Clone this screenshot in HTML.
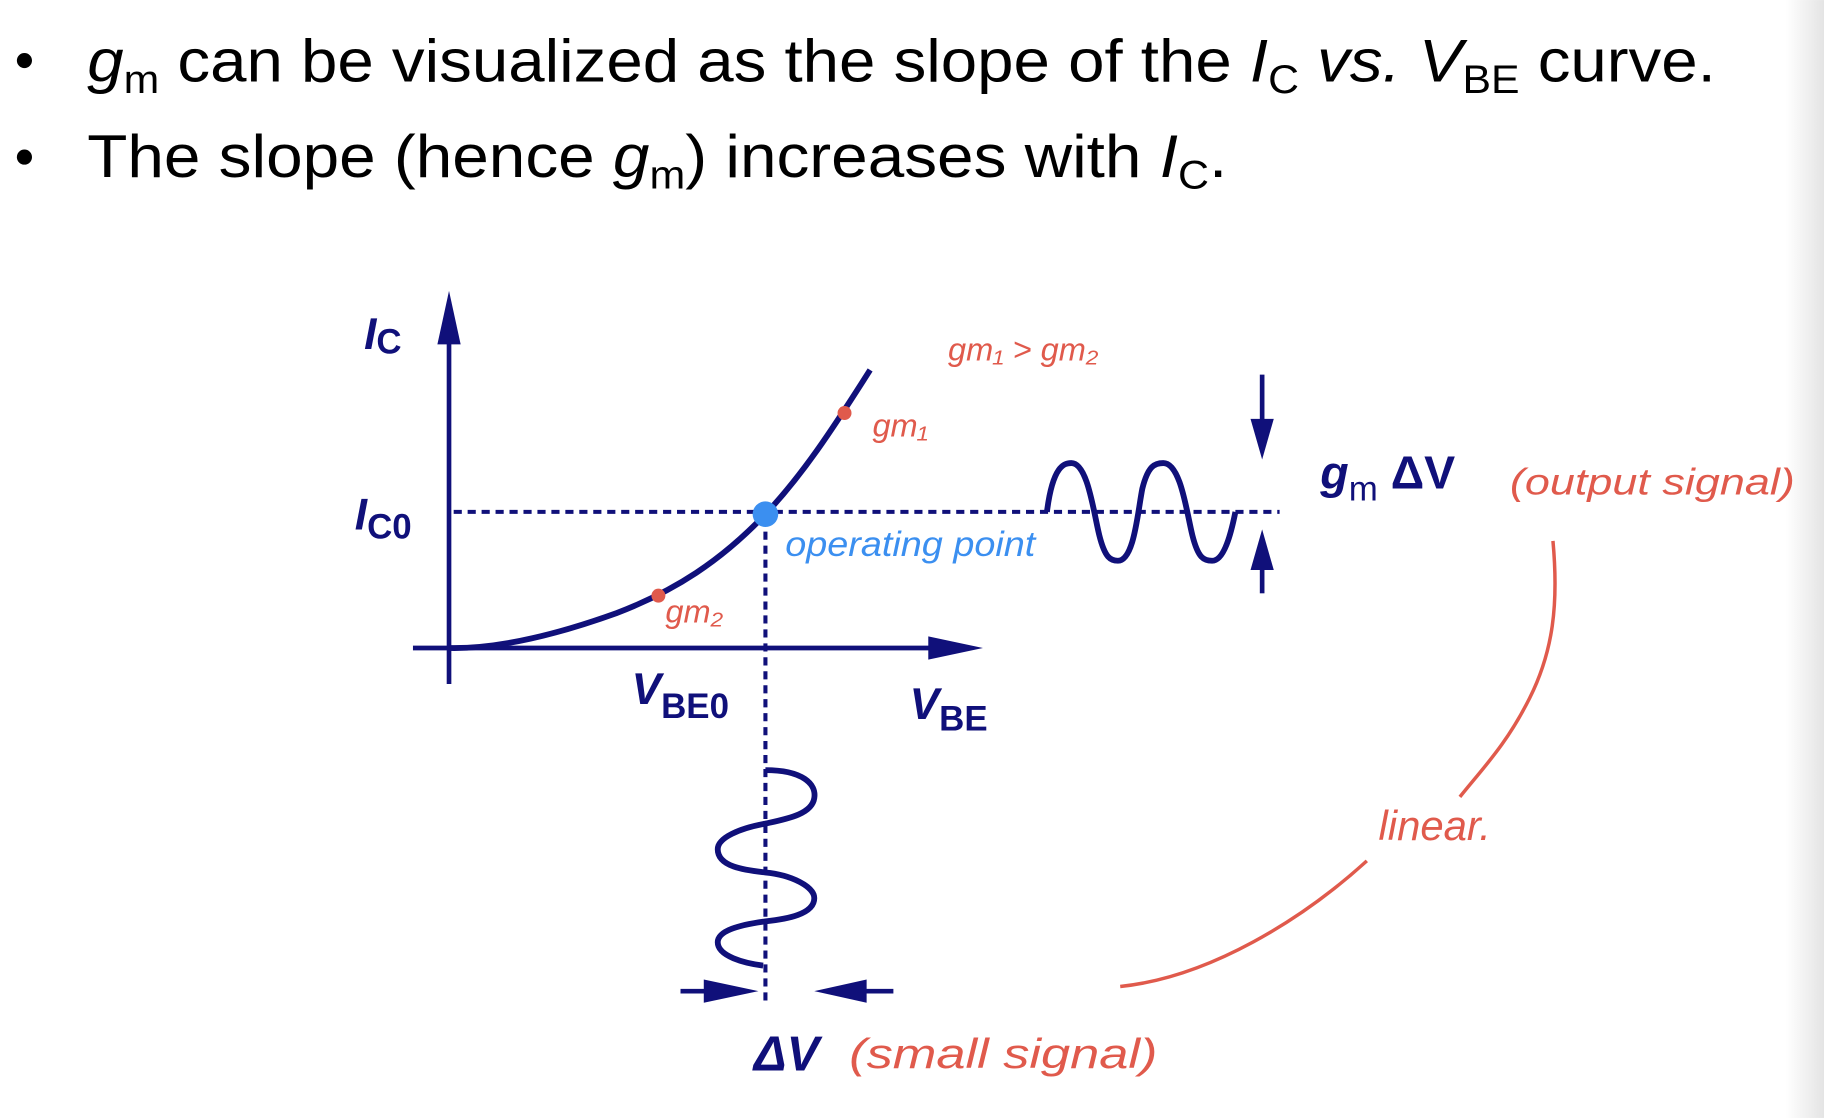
<!DOCTYPE html>
<html><head><meta charset="utf-8"><style>
html,body{margin:0;padding:0;background:#fff;}
svg{display:block;}
</style></head><body>
<svg width="1824" height="1118" viewBox="0 0 1568 961" xmlns="http://www.w3.org/2000/svg" font-family="Liberation Sans, sans-serif">
<defs>
<linearGradient id="edge" x1="0" x2="1"><stop offset="0" stop-color="#fff"/><stop offset="1" stop-color="#e4e4e4"/></linearGradient>
</defs>
<rect x="1535" y="0" width="33" height="961" fill="url(#edge)"/>
<g font-size="52" fill="#000">
<circle cx="21" cy="52" r="6.5"/>
<text x="75" y="70" textLength="1400" lengthAdjust="spacingAndGlyphs"><tspan font-style="italic">g</tspan><tspan font-size="34" dy="10">m</tspan><tspan dy="-10"> can be visualized as the slope of the </tspan><tspan font-style="italic">I</tspan><tspan font-size="34" dy="10">C</tspan><tspan dy="-10" font-style="italic"> vs. V</tspan><tspan font-size="34" dy="10">BE</tspan><tspan dy="-10"> curve.</tspan></text>
</g>
<g font-size="52" fill="#000">
<circle cx="21" cy="135" r="6.5"/>
<text x="75" y="152" textLength="980" lengthAdjust="spacingAndGlyphs">The slope (hence <tspan font-style="italic">g</tspan><tspan font-size="34" dy="10">m</tspan><tspan dy="-10">) increases with </tspan><tspan font-style="italic">I</tspan><tspan font-size="34" dy="10">C</tspan><tspan dy="-10">.</tspan></text>
</g>
<g stroke="#10107a" fill="none" stroke-width="4">
<line x1="386" y1="588" x2="386" y2="285"/>
<polygon points="386,250 376,296 396,296" fill="#10107a" stroke="none"/>
<line x1="355" y1="557" x2="805" y2="557"/>
<polygon points="845,557 798,547 798,567" fill="#10107a" stroke="none"/>
<path stroke-width="5" d="M386,557 C430,558 480,545 530,527 C580,508 620,482 658,442 C690,408 715,370 748,318"/>
<line x1="390" y1="440" x2="1100" y2="440" stroke-dasharray="7,5" stroke-width="3.5"/>
<line x1="658" y1="445" x2="658" y2="865" stroke-dasharray="7,5" stroke-width="3.5"/>
<path stroke-width="5" d="M900,440 C905,400 915,398 921,398 C935,398 940,440 945,460 C950,480 955,482 961,482 C975,482 978,440 982,420 C987,400 993,398 1000,398 C1015,398 1020,440 1025,460 C1030,480 1035,482 1042,482 C1052,482 1058,460 1062,440"/>
<path stroke-width="5" d="M658,662 C690,662 702,674 700,686 C698,700 676,704 658,708 C636,712 617,720 617,730 C617,745 640,748 658,750 C680,752 700,762 700,772 C700,786 676,790 658,792 C636,795 617,800 617,810 C617,822 640,828 656,830"/>
<line x1="1085" y1="322" x2="1085" y2="370"/>
<line x1="1085" y1="510" x2="1085" y2="478"/>
<line x1="585" y1="852" x2="615" y2="852"/>
<line x1="768" y1="852" x2="735" y2="852"/>
</g>
<g fill="#10107a">
<polygon points="1085,395 1075,360 1095,360"/>
<polygon points="1085,455 1075,490 1095,490"/>
<polygon points="652,852 605,842 605,862"/>
<polygon points="700,852 745,842 745,862"/>
<text x="313" y="300" font-size="38" font-weight="bold" font-style="italic">I<tspan font-style="normal" font-size="30" dy="4">C</tspan></text>
<text x="305" y="455" font-size="38" font-weight="bold" font-style="italic">I<tspan font-style="normal" font-size="30" dy="8">C0</tspan></text>
<text x="543" y="605" font-size="38" font-weight="bold" font-style="italic">V<tspan font-style="normal" font-size="30" dy="12">BE0</tspan></text>
<text x="782" y="618" font-size="38" font-weight="bold" font-style="italic">V<tspan font-style="normal" font-size="30" dy="10">BE</tspan></text>
<text x="1135" y="420" font-size="40" font-weight="bold"><tspan font-style="italic">g</tspan><tspan font-size="30" dy="10" font-weight="normal">m</tspan><tspan dy="-10"> ΔV</tspan></text>
<text x="648" y="920" font-size="42" font-weight="bold" font-style="italic">ΔV</text>
</g>
<circle cx="658" cy="442" r="11" fill="#3b8ff0"/>
<circle cx="726" cy="355" r="6" fill="#e05a4c"/>
<circle cx="566" cy="512" r="6" fill="#e05a4c"/>
<g fill="#e05a4c" font-style="italic">
<text x="815" y="310" font-size="28">gm₁ &gt; gm₂</text>
<text x="750" y="375" font-size="28">gm₁</text>
<text x="572" y="535" font-size="28">gm₂</text>
<text x="1298" y="425" font-size="32" textLength="245" lengthAdjust="spacingAndGlyphs">(output signal)</text>
<text x="730" y="918" font-size="36" textLength="265" lengthAdjust="spacingAndGlyphs">(small signal)</text>
<text x="1185" y="722" font-size="36">linear.</text>
</g>
<text x="675" y="478" font-size="30" font-style="italic" fill="#3b8ff0" textLength="215" lengthAdjust="spacingAndGlyphs">operating point</text>
<g stroke="#e05a4c" stroke-width="3" fill="none">
<path d="M1335,465 C1340,520 1335,560 1315,600 C1295,640 1275,660 1255,685"/>
<path d="M1175,740 C1120,790 1040,840 963,848"/>
</g>
</svg>
</body></html>
